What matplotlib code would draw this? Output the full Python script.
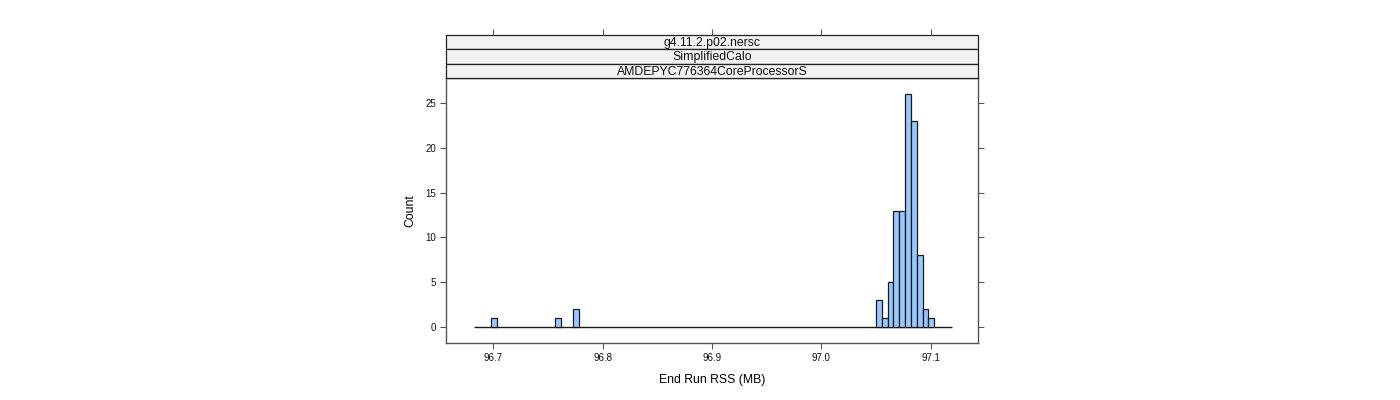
import matplotlib
matplotlib.use("Agg")
import matplotlib.pyplot as plt
from matplotlib.patches import Rectangle
import numpy as np

plt.rcParams['font.family'] = ['Liberation Sans', 'DejaVu Sans']

# ---- data ----
bin_start = 96.6821
bin_width = 0.00533
bin_counts = [0, 0, 0, 1, 0, 0, 0, 0, 0, 0,
              0, 0, 0, 0, 1, 0, 0, 2, 0, 0,
              0, 0, 0, 0, 0, 0, 0, 0, 0, 0,
              0, 0, 0, 0, 0, 0, 0, 0, 0, 0,
              0, 0, 0, 0, 0, 0, 0, 0, 0, 0,
              0, 0, 0, 0, 0, 0, 0, 0, 0, 0,
              0, 0, 0, 0, 0, 0, 0, 0, 0, 3,
              1, 5, 13, 13, 26, 23, 8, 2, 1, 0,
              0, 0]
x_ticks = [96.7, 96.8, 96.9, 97.0, 97.1]
y_ticks = [0, 5, 10, 15, 20, 25]
strip_labels = ["g4.11.2.p02.nersc", "SimplifiedCalo", "AMDEPYC776364CoreProcessorS"]
x_label = "End Run RSS (MB)"
y_label = "Count"

edges = bin_start + bin_width * np.arange(len(bin_counts) + 1)
counts = np.array(bin_counts)
nz = counts > 0

W, H = 1400, 400
fig = plt.figure(figsize=(W / 100, H / 100), dpi=100)

px_l, px_r, px_b, px_t = 446, 978, 343, 78
strip_top = 35
ax = fig.add_axes([px_l / W, 1 - px_b / H, (px_r - px_l) / W, (px_b - px_t) / H])

axis_col = '#555555'
# baseline formed by the (empty) histogram bins
ax.hlines(0, edges[0], edges[-1], color='#1a1a1a', linewidth=1.0, zorder=1)
ax.bar(edges[:-1][nz], counts[nz], width=bin_width, align='edge',
       color='#99c8ff', edgecolor='#1a1a1a', linewidth=0.9, zorder=2)

xlim = (96.6568, 97.1432)
ylim = (-1.79, 27.79)
ax.set_xlim(*xlim)
ax.set_ylim(*ylim)
ax.set_xticks(x_ticks)
ax.set_xticklabels([f"{v:.1f}" for v in x_ticks])
ax.set_yticks(y_ticks)
for s in ax.spines.values():
    s.set_color(axis_col)
    s.set_linewidth(1.0)
ax.tick_params(axis='both', direction='out', length=4.3, width=0.8, color=axis_col,
               labelsize=7, labelcolor='#111111', pad=3)
ax.tick_params(axis='y', right=True, left=True)
ax.tick_params(axis='x', top=False, bottom=True)
ax.set_xlabel(x_label, fontsize=8.8, labelpad=8)
ax.set_ylabel(y_label, fontsize=8.8, labelpad=6)

# strips
sax = fig.add_axes([px_l / W, 1 - px_t / H, (px_r - px_l) / W, (px_t - strip_top) / H])
sax.set_xlim(*xlim)
sax.set_ylim(0, len(strip_labels))
for s in sax.spines.values():
    s.set_visible(False)
sax.set_yticks([])
sax.xaxis.set_ticks_position('top')
sax.set_xticks(x_ticks)
sax.set_xticklabels([])
sax.tick_params(axis='x', direction='out', length=4.3, width=0.8, color=axis_col)
n = len(strip_labels)
for i, lab in enumerate(strip_labels):
    y0 = n - 1 - i
    sax.add_patch(Rectangle((0, y0), 1, 1, transform=sax.get_yaxis_transform(),
                            facecolor='#f2f2f2', edgecolor='#222222', linewidth=0.9,
                            clip_on=False))
    sax.text(0.5, y0 + 0.45, lab, transform=sax.get_yaxis_transform(),
             ha='center', va='center', fontsize=8.8, color='#111111')

fig.savefig("out.png", dpi=100, facecolor='white')
